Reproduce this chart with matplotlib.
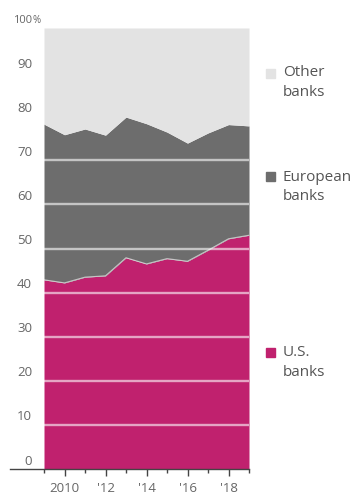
import matplotlib
matplotlib.use('Agg')
import matplotlib.pyplot as plt
from matplotlib.patches import Rectangle

# yearly share of lending, percent
years = [2009, 2010, 2011, 2012, 2013, 2014, 2015, 2016, 2017, 2018, 2019]
us_banks = [42.9, 42.2, 43.5, 43.8, 47.9, 46.5, 47.7, 47.1, 49.6, 52.2, 53.0]
us_plus_europe = [78.2, 75.8, 77.1, 75.7, 79.8, 78.3, 76.4, 73.9, 76.2, 78.1, 77.8]

x_ticks = [2010, 2012, 2014, 2016, 2018]
x_labels = ['2010', "'12", "'14", "'16", "'18"]
y_ticks = [0, 10, 20, 30, 40, 50, 60, 70, 80, 90, 100]
y_labels = ['0', '10', '20', '30', '40', '50', '60', '70', '80', '90', '100']

legend_names = ['Other', 'European', 'U.S.']
legend_colors = ['#e3e3e3', '#6d6d6d', '#c0216e']

W, H = 354, 493
plt.rcParams['font.family'] = ['Open Sans', 'DejaVu Sans']

fig = plt.figure(figsize=(W / 100, H / 100), dpi=100)
ax = fig.add_axes([44 / W, 1 - 469 / H, 205 / W, 441 / H])

ax.fill_between(years, 0, us_banks, color=legend_colors[2], linewidth=0, zorder=1)
ax.fill_between(years, us_banks, us_plus_europe, color=legend_colors[1], linewidth=0, zorder=1)
ax.plot(years, us_banks, color='white', linewidth=0.8, alpha=0.6, zorder=2)

for v in y_ticks[1:-1]:
    ax.axhline(v, color='white', linewidth=1.7, alpha=0.6, zorder=3)
# other banks on top so gridlines don't show in the light area
ax.fill_between(years, us_plus_europe, 100, color=legend_colors[0], linewidth=0, zorder=4)

ax.set_xlim(2009, 2019)
ax.set_ylim(0, 100)
for s in ['top', 'right', 'left']:
    ax.spines[s].set_visible(False)
ax.spines['bottom'].set_color('#444444')
ax.spines['bottom'].set_linewidth(1.0)
ax.spines['bottom'].set_bounds(2009 - 1.65, 2019)
ax.spines['bottom'].set_zorder(5)

ax.set_xticks(x_ticks)
ax.set_xticklabels(x_labels)
ax.set_xticks(years, minor=True)
ax.tick_params(axis='x', which='major', direction='out', length=5, width=1, color='#444444',
               labelsize=9.5, labelcolor='#666666', pad=4)
ax.tick_params(axis='x', which='minor', direction='out', length=3, width=1, color='#444444')

ax.set_yticks([])
for v, lab in zip(y_ticks, y_labels):
    fs = 9.5 if v < 100 else 8
    ax.text(2009 - 0.58, v + 1.8, lab, ha='right', va='center', fontsize=fs,
            color='#666666', clip_on=False, zorder=6)
ax.text(2009 - 0.58, 100 + 1.8, '%', ha='left', va='center', fontsize=7,
        color='#666666', clip_on=False)

# legend on the right side, positions in pixels
legend_y = [73, 177, 352]
for name, col, yp in zip(legend_names, legend_colors, legend_y):
    fig.patches.append(Rectangle((266 / W, 1 - (yp + 4.5) / H), 9 / W, 9 / H, color=col,
                                 transform=fig.transFigure, figure=fig))
    fig.text(283 / W, 1 - yp / H, name, ha='left', va='center', fontsize=11, color='#555555')
    fig.text(283 / W, 1 - (yp + 20) / H, 'banks', ha='left', va='center', fontsize=11,
             color='#555555')

fig.savefig('out.png', dpi=100, facecolor='white')
